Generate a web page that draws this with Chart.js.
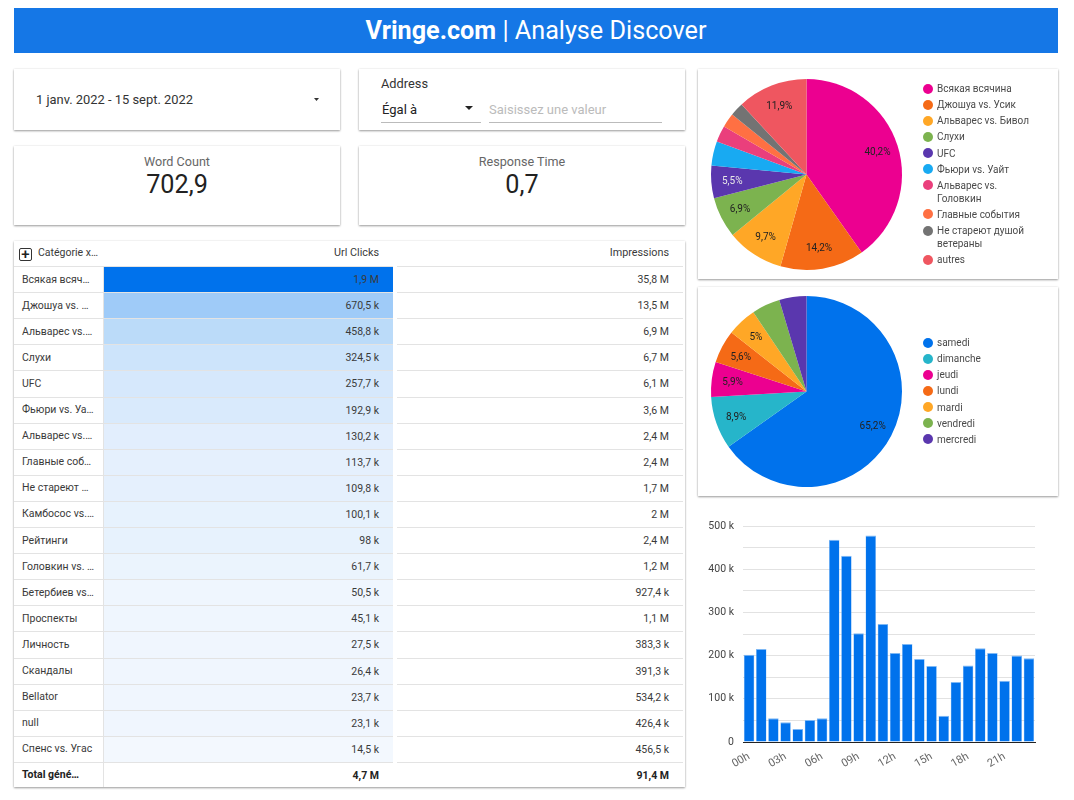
<!DOCTYPE html>
<html>
<head>
<meta charset="utf-8">
<script src="https://cdn.jsdelivr.net/npm/chart.js@4"></script>
<style>
body { margin: 0; background: #fff; font-family: Roboto, sans-serif; color: #222; }
#page { position: relative; width: 1074px; height: 800px; overflow: hidden; }
.box { position: absolute; background: #fff; box-shadow: 0 1px 2px rgba(0,0,0,.38), 0 0 2px rgba(0,0,0,.08); }
.abs { position: absolute; white-space: nowrap; }
#header { position: absolute; left: 14px; top: 8px; width: 1044px; height: 45px; line-height: 45px; background: #1577e6; color: #fff; text-align: center; font-size: 25.2px; }
#header b { font-weight: 700; }
.cell { position: absolute; font-size: 10.5px; line-height: 26px; white-space: nowrap; color: #3a3a3a; }
.rule { position: absolute; height: 1px; background: #e3e3e3; }
.legend { position: absolute; left: 225px; width: 118px; font-size: 10px; line-height: 13px; color: #4a4a4a; }
.legend div { position: relative; padding-left: 14px; margin-bottom: 3.15px; }
.legend i { position: absolute; left: 0; top: 1.5px; width: 10px; height: 10px; border-radius: 50%; }
canvas { position: absolute; left: 0; top: 0; }
</style>
</head>
<body>
<div id="page">
  <div id="header"><b>Vringe.com</b> | Analyse Discover</div>

  <div class="box" style="left:14px;top:69px;width:326px;height:61px">
    <div class="abs" style="left:22px;top:23px;font-size:12.9px;color:#333">1 janv. 2022 - 15 sept. 2022</div>
    <div class="abs" style="left:300px;top:29px;width:5px;height:3px;background:#333;clip-path:polygon(0 0,100% 0,50% 100%)"></div>
  </div>
  <div class="box" style="left:359px;top:69px;width:326px;height:61px">
    <div class="abs" style="left:22px;top:7px;font-size:12.8px;color:#333">Address</div>
    <div class="abs" style="left:23px;top:33px;font-size:13px;color:#222">Égal à</div>
    <div class="abs" style="left:106px;top:37px;border:4px solid transparent;border-top:4px solid #222"></div>
    <div class="abs" style="left:22px;top:53px;width:100px;height:1px;background:#bbb"></div>
    <div class="abs" style="left:130px;top:33px;font-size:13px;color:#bbb">Saisissez une valeur</div>
    <div class="abs" style="left:130px;top:53px;width:173px;height:1px;background:#bbb"></div>
  </div>
  <div class="box" style="left:14px;top:146px;width:326px;height:79px;text-align:center">
    <div style="margin-top:8px;font-size:12.6px;line-height:15px;color:#666">Word Count</div>
    <div style="font-size:25.2px;line-height:32px;color:#222">702,9</div>
  </div>
  <div class="box" style="left:359px;top:146px;width:326px;height:79px;text-align:center">
    <div style="margin-top:8px;font-size:12.6px;line-height:15px;color:#666">Response Time</div>
    <div style="font-size:25.2px;line-height:32px;color:#222">0,7</div>
  </div>

  <div class="box" id="table" style="left:14px;top:241px;width:671px;height:546px"></div>

  <div class="box" style="left:698px;top:69px;width:360px;height:210px">
    <canvas id="topicPie"></canvas>
    <div class="legend" id="topicLegend" style="top:13px"></div>
  </div>
  <div class="box" style="left:698px;top:287px;width:360px;height:209px">
    <canvas id="dayPie"></canvas>
    <div class="legend" id="dayLegend" style="top:49px"></div>
  </div>
  <div style="position:absolute;left:698px;top:505px;width:360px;height:285px">
    <canvas id="hourBars"></canvas>
  </div>
</div>

<script>
const topicLabels = ['Всякая всячина', 'Джошуа vs. Усик', 'Альварес vs. Бивол', 'Слухи', 'UFC', 'Фьюри vs. Уайт', 'Альварес vs. Головкин', 'Главные события', 'Не стареют душой ветераны', 'autres'];
const topicShare = [40.2, 14.2, 9.7, 6.9, 5.5, 4.1, 2.8, 2.4, 2.3, 11.9];
const topicColors = ['#ec0090', '#f56a16', '#ffa726', '#7cb34f', '#5a37ae', '#18aaf2', '#ea3f7c', '#ff7043', '#737373', '#ef5660'];

const dayLabels = ['samedi', 'dimanche', 'jeudi', 'lundi', 'mardi', 'vendredi', 'mercredi'];
const dayShare = [65.2, 8.9, 5.9, 5.6, 5, 4.8, 4.6];
const dayColors = ['#0072ec', '#26b5ca', '#ec0090', '#f56a16', '#ffa726', '#7cb34f', '#5a37ae'];

const hourLabels = ['00h', '01h', '02h', '03h', '04h', '05h', '06h', '07h', '08h', '09h', '10h', '11h', '12h', '13h', '14h', '15h', '16h', '17h', '18h', '19h', '20h', '21h', '22h', '23h'];
const hourClicks = [202, 215, 55, 46, 30, 51, 55, 468, 431, 252, 478, 273, 206, 227, 192, 176, 61, 139, 177, 217, 206, 142, 200, 194];

const tableCategories = ['Всякая всяч…', 'Джошуа vs. …', 'Альварес vs.…', 'Слухи', 'UFC', 'Фьюри vs. Уа…', 'Альварес vs.…', 'Главные соб…', 'Не стареют …', 'Камбосос vs.…', 'Рейтинги', 'Головкин vs. …', 'Бетербиев vs…', 'Проспекты', 'Личность', 'Скандалы', 'Bellator', 'null', 'Спенс vs. Угас'];
const tableClicks = ['1,9 M', '670,5 k', '458,8 k', '324,5 k', '257,7 k', '192,9 k', '130,2 k', '113,7 k', '109,8 k', '100,1 k', '98 k', '61,7 k', '50,5 k', '45,1 k', '27,5 k', '26,4 k', '23,7 k', '23,1 k', '14,5 k'];
const tableImpressions = ['35,8 M', '13,5 M', '6,9 M', '6,7 M', '6,1 M', '3,6 M', '2,4 M', '2,4 M', '1,7 M', '2 M', '2,4 M', '1,2 M', '927,4 k', '1,1 M', '383,3 k', '391,3 k', '534,2 k', '426,4 k', '456,5 k'];
const tableShades = ['#0072ec', '#9fcbf8', '#bbdbf9', '#cde4fb', '#d6e8fc', '#d9eafc', '#e2eefd', '#e5f0fd', '#e5f0fd', '#e7f2fd', '#e7f2fd', '#ebf4fd', '#eff6fe', '#eff6fe', '#f0f6fe', '#f0f6fe', '#f0f6fe', '#f0f6fe', '#f3f8fe'];

// table
const table = document.getElementById('table');
function addCell(text, left, top, width, align, bold, size) {
    const c = document.createElement('div');
    c.className = 'cell';
    c.textContent = text;
    c.style.left = left + 'px';
    c.style.top = top + 'px';
    c.style.width = width + 'px';
    c.style.textAlign = align;
    if (size) c.style.fontSize = size + 'px';
    if (bold) { c.style.fontWeight = 700; c.style.color = '#222'; }
    table.appendChild(c);
}
function addRule(left, top, width) {
    const r = document.createElement('div');
    r.className = 'rule';
    r.style.left = left + 'px';
    r.style.top = top + 'px';
    r.style.width = width + 'px';
    table.appendChild(r);
}
const rowH = 26.1;
const firstRow = 26;
addCell('Catégorie x…', 24, -1, 70, 'left');
addCell('Url Clicks', 90, -1.5, 275, 'right', false, 10.8);
addCell('Impressions', 383, -1.5, 272, 'right', false, 10.8);
table.insertAdjacentHTML('beforeend', '<div class="abs" style="left:5px;top:7px;width:11px;height:11px;border:1px solid #333;border-radius:2px;font-size:15px;font-weight:500;line-height:11px;text-align:center;color:#222">+</div>');
tableCategories.forEach((name, i) => {
    const y = firstRow + i * rowH;
    const bg = document.createElement('div');
    bg.style.cssText = 'position:absolute;left:90px;width:289px;top:' + y + 'px;height:' + rowH + 'px;background:' + tableShades[i];
    table.appendChild(bg);
    addCell(name, 8, y - 0.5, 80, 'left');
    addCell(tableClicks[i], 90, y, 275, 'right');
    addCell(tableImpressions[i], 383, y, 272, 'right');
    addRule(0, y - 1, 379);
    addRule(383, y - 1, 286);
});
const totalY = firstRow + tableCategories.length * rowH;
addRule(0, totalY - 1, 379);
addRule(383, totalY - 1, 286);
addCell('Total géné…', 8, totalY - 1, 80, 'left', true);
addCell('4,7 M', 90, totalY, 275, 'right', true);
addCell('91,4 M', 383, totalY, 272, 'right', true);
const colLine = document.createElement('div');
colLine.style.cssText = 'position:absolute;left:89px;top:26px;width:1px;height:520px;background:#e3e3e3';
table.appendChild(colLine);

// share labels on the slices, only from 5 % up like the original
const sliceLabels = {
    id: 'sliceLabels',
    afterDatasetsDraw(chart) {
        const ctx = chart.ctx;
        const values = chart.data.datasets[0].data;
        const lightIndex = chart.options.plugins.sliceLabels.lightIndex;
        chart.getDatasetMeta(0).data.forEach((arc, i) => {
            if (values[i] < 5) return;
            const mid = (arc.startAngle + arc.endAngle) / 2;
            const r = arc.outerRadius * 0.78;
            ctx.save();
            ctx.font = '10px Roboto';
            ctx.fillStyle = i === lightIndex ? '#e8e8e8' : '#222';
            ctx.textAlign = 'center';
            ctx.textBaseline = 'middle';
            ctx.fillText(String(values[i]).replace('.', ',') + '%', arc.x + Math.cos(mid) * r, arc.y + Math.sin(mid) * r + 1);
            ctx.restore();
        });
    }
};

function makePie(id, legendId, labels, values, colors, lightIndex, padding) {
    new Chart(document.getElementById(id), {
        type: 'pie',
        data: { labels: labels, datasets: [{ data: values, backgroundColor: colors, borderWidth: 0 }] },
        options: {
            responsive: true,
            maintainAspectRatio: false,
            animation: false,
            layout: { padding: padding },
            plugins: {
                legend: { display: false },
                tooltip: { enabled: false },
                sliceLabels: { lightIndex: lightIndex }
            }
        },
        plugins: [sliceLabels]
    });
    const legend = document.getElementById(legendId);
    labels.forEach((name, i) => {
        const row = document.createElement('div');
        row.innerHTML = '<i style="background:' + colors[i] + '"></i>' + name;
        legend.appendChild(row);
    });
}
makePie('topicPie', 'topicLegend', topicLabels, topicShare, topicColors, 4, { left: 13, right: 156, top: 10, bottom: 9 });
makePie('dayPie', 'dayLegend', dayLabels, dayShare, dayColors, -1, { left: 13, right: 156, top: 9, bottom: 9 });

new Chart(document.getElementById('hourBars'), {
    type: 'bar',
    data: {
        labels: hourLabels,
        datasets: [{ data: hourClicks, backgroundColor: '#0072ec', borderColor: '#7db8f5', borderWidth: { top: 1, left: 0.5, right: 0.5 }, barPercentage: 0.86, categoryPercentage: 1 }]
    },
    options: {
        responsive: true,
        maintainAspectRatio: false,
        animation: false,
        layout: { padding: { left: 0, right: 23, top: 21, bottom: 0 } },
        plugins: { legend: { display: false }, tooltip: { enabled: false } },
        scales: {
            x: {
                grid: { display: false },
                border: { color: '#222', width: 1 },
                afterFit(axis) { axis.height = 48; },
                ticks: {
                    color: '#666', padding: 0, font: { family: 'Roboto', size: 11 }, maxRotation: 30, minRotation: 30, autoSkip: false,
                    callback(value, index) { return index % 3 === 0 ? hourLabels[index] : ''; }
                }
            },
            y: {
                min: 0, max: 500,
                grid: { color: '#e2e2e2', drawTicks: false },
                border: { display: false },
                afterFit(axis) { axis.width = 45; },
                ticks: {
                    stepSize: 50, color: '#444', padding: 9, font: { family: 'Roboto', size: 10.5 },
                    callback(value) { return value % 100 !== 0 ? '' : (value === 0 ? '0' : value + ' k'); }
                }
            }
        }
    }
});
</script>
</body>
</html>
